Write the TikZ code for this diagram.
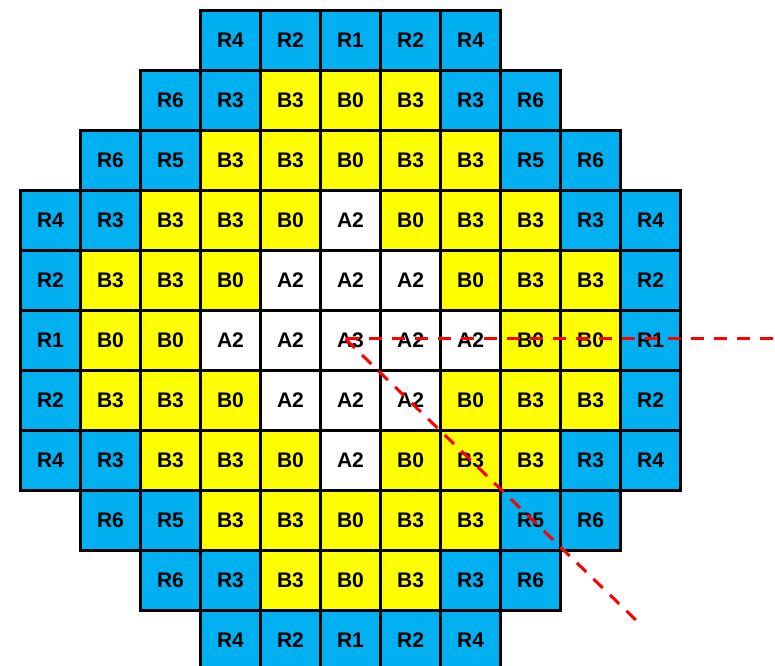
\documentclass[tikz,border=0pt]{standalone}
\usepackage{fontspec}
\setmainfont{Liberation Sans}
\usepackage{tikz}
\usetikzlibrary{positioning}

\definecolor{refl}{RGB}{0,176,240}
\definecolor{fuel}{RGB}{255,255,0}

\tikzset{
  cell/.style={draw=black,line width=0.06cm,minimum size=1.2cm,inner sep=0pt,
    anchor=north west,font=\fontsize{12}{14}\selectfont\bfseries},
  cellR/.style={cell,fill=refl},
  cellB/.style={cell,fill=fuel},
  cellA/.style={cell,fill=white},
  sym/.style={red,line width=0.06cm,dash pattern=on 0.26cm off 0.2cm}
}

\begin{document}
\begin{tikzpicture}
  \useasboundingbox (0,0) rectangle (15.5,-13.32);
  % core map, row / first column / assemblies
  \foreach \r/\c/\labels in {
      0/3/{R/4,R/2,R/1,R/2,R/4},
      1/2/{R/6,R/3,B/3,B/0,B/3,R/3,R/6},
      2/1/{R/6,R/5,B/3,B/3,B/0,B/3,B/3,R/5,R/6},
      3/0/{R/4,R/3,B/3,B/3,B/0,A/2,B/0,B/3,B/3,R/3,R/4},
      4/0/{R/2,B/3,B/3,B/0,A/2,A/2,A/2,B/0,B/3,B/3,R/2},
      5/0/{R/1,B/0,B/0,A/2,A/2,A/3,A/2,A/2,B/0,B/0,R/1},
      6/0/{R/2,B/3,B/3,B/0,A/2,A/2,A/2,B/0,B/3,B/3,R/2},
      7/0/{R/4,R/3,B/3,B/3,B/0,A/2,B/0,B/3,B/3,R/3,R/4},
      8/1/{R/6,R/5,B/3,B/3,B/0,B/3,B/3,R/5,R/6},
      9/2/{R/6,R/3,B/3,B/0,B/3,R/3,R/6},
      10/3/{R/4,R/2,R/1,R/2,R/4}}{
    \foreach \t/\n [count=\k from 0] in \labels {
      \pgfmathtruncatemacro\col{\c+\k}
      \node[cell\t] (c-\r-\col) at ({0.38+1.2*\col},{-0.18-1.2*\r}) {\t\n};
    }
  }
  % symmetry lines
  \coordinate (o) at ([xshift=-0.1cm,yshift=0.03cm]c-5-5.center);
  \coordinate (e) at (15.5,0 |- o);
  \coordinate (d) at (12.78,-12.46);
  \draw[sym] (o) -- (e);
  \draw[sym] (o) -- (d);
\end{tikzpicture}
\end{document}
